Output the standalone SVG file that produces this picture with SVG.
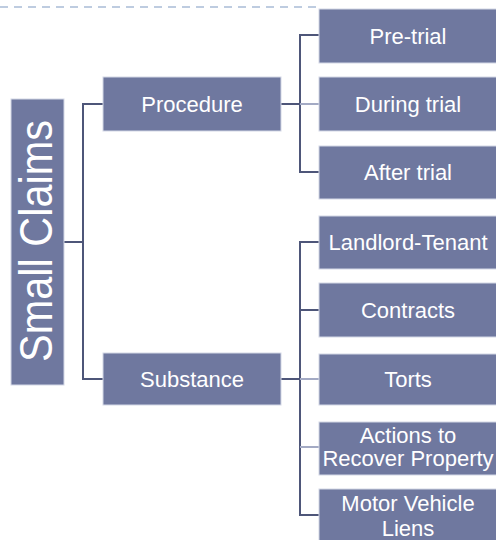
<svg xmlns="http://www.w3.org/2000/svg" width="496" height="540" viewBox="0 0 496 540">
<style>
.box{fill:#6f789f;stroke:#d4d8e6;stroke-width:1}
.lbl{font-family:"Liberation Sans",Arial,sans-serif;font-size:22px;fill:#ffffff;text-anchor:middle}
.big{font-family:"Liberation Sans",Arial,sans-serif;font-size:46px;fill:#ffffff;text-anchor:middle}
.ln{fill:none;stroke:#4e5679;stroke-width:2}
.lt{fill:none;stroke:#a3aac4;stroke-width:2}
</style>
<rect width="496" height="540" fill="#ffffff"/>
<line x1="0" y1="7" x2="317" y2="7" stroke="#a9bcd6" stroke-width="1.5" stroke-dasharray="8,6"/>
<g id="connectors">
<path class="ln" d="M64,242 H83 M103,104 H83 V379 H103"/>
<path class="ln" d="M281,104 H300 M319,35 H300 V172 H319"/>
<path class="lt" d="M300,104 H319"/>
<path class="ln" d="M281,379 H300 M319,242 H300 V515 H319 M300,310 H319"/>
<path class="lt" d="M300,379 H319 M300,447 H319"/>
</g>
<g id="small-claims">
<rect class="box" x="11" y="99" width="53" height="286"/>
<text class="big" transform="translate(52,241) rotate(-90)" textLength="242" lengthAdjust="spacingAndGlyphs">Small Claims</text>
</g>
<g id="procedure">
<rect class="box" x="103" y="77" width="178" height="54"/>
<text class="lbl" x="192" y="112">Procedure</text>
</g>
<g id="substance">
<rect class="box" x="103" y="353" width="178" height="52"/>
<text class="lbl" x="192" y="387">Substance</text>
</g>
<g id="pre-trial">
<rect class="box" x="319" y="9" width="178" height="54"/>
<text class="lbl" x="408" y="44">Pre-trial</text>
</g>
<g id="during-trial">
<rect class="box" x="319" y="77" width="178" height="54"/>
<text class="lbl" x="408" y="112">During trial</text>
</g>
<g id="after-trial">
<rect class="box" x="319" y="146" width="178" height="53"/>
<text class="lbl" x="408" y="180">After trial</text>
</g>
<g id="landlord-tenant">
<rect class="box" x="319" y="216" width="178" height="53"/>
<text class="lbl" x="408" y="250">Landlord-Tenant</text>
</g>
<g id="contracts">
<rect class="box" x="319" y="283" width="178" height="54"/>
<text class="lbl" x="408" y="318">Contracts</text>
</g>
<g id="torts">
<rect class="box" x="319" y="354" width="178" height="51"/>
<text class="lbl" x="408" y="387">Torts</text>
</g>
<g id="actions">
<rect class="box" x="319" y="422" width="178" height="53"/>
<text class="lbl" x="408" y="443">Actions to</text>
<text class="lbl" x="408" y="466">Recover Property</text>
</g>
<g id="motor-vehicle">
<rect class="box" x="319" y="489" width="178" height="55"/>
<text class="lbl" x="408" y="511">Motor Vehicle</text>
<text class="lbl" x="408" y="536">Liens</text>
</g>
</svg>
